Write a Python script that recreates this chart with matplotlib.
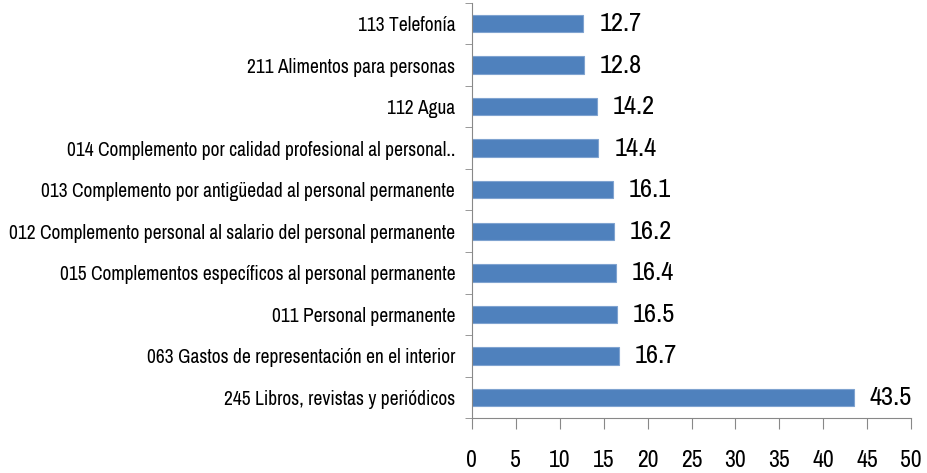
import numpy as np
import matplotlib.pyplot as plt
from matplotlib import font_manager

names = [f.name for f in font_manager.fontManager.ttflist]
narrow = 'Archivo Narrow' if 'Archivo Narrow' in names else 'DejaVu Sans'
plt.rcParams['font.family'] = [narrow, 'DejaVu Sans']

categories = [
    '113 Telefonía',
    '211 Alimentos para personas',
    '112 Agua',
    '014 Complemento por calidad profesional al personal..',
    '013 Complemento por antigüedad al personal permanente',
    '012 Complemento personal al salario del personal permanente',
    '015 Complementos específicos al personal permanente',
    '011 Personal permanente',
    '063 Gastos de representación en el interior',
    '245 Libros, revistas y periódicos',
]
values = [12.7, 12.8, 14.2, 14.4, 16.1, 16.2, 16.4, 16.5, 16.7, 43.5]
xticks = [0, 5, 10, 15, 20, 25, 30, 35, 40, 45, 50]

fig = plt.figure(figsize=(9.27, 4.73), dpi=100)
ax = fig.add_axes([0.509, 0.116, 0.474, 0.878])

y = np.arange(len(categories))
ax.barh(y, values, height=0.42, color='#4F81BD', edgecolor='#7FA3D0', linewidth=0.8)

for yi, v in zip(y, values):
    ax.text(v + 1.8, yi, f'{v:.1f}', va='center', ha='left', fontsize=19, color='black')

ax.set_ylim(len(categories) - 0.5, -0.5)
ax.set_xlim(0, 50)
ax.set_xticks(xticks)
ax.set_xticklabels([str(t) for t in xticks], fontsize=17)
ax.set_yticks(y)
ax.set_yticklabels(categories, fontsize=14)
ax.set_yticks(np.arange(len(categories) + 1) - 0.5, minor=True)

ax.tick_params(axis='y', which='major', length=0, pad=12)
ax.tick_params(axis='y', which='minor', length=5, color='#888888', direction='out')
ax.tick_params(axis='x', length=8, color='#888888', direction='out', pad=15)

for s in ['top', 'right']:
    ax.spines[s].set_visible(False)
for s in ['left', 'bottom']:
    ax.spines[s].set_color('#888888')

fig.savefig('out.png', dpi=100)
